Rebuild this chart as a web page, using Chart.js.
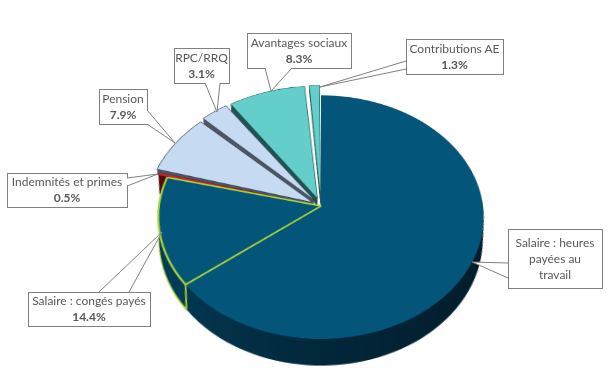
<!DOCTYPE html>
<html lang="fr">
<head>
<meta charset="utf-8">
<title>Rémunération</title>
<script src="https://cdn.jsdelivr.net/npm/chart.js@4"></script>
<style>
  html, body { margin: 0; background: #fff; }
  #stage { position: relative; width: 609px; height: 368px; overflow: hidden; }
  /* la tarte est inclinée en vraie perspective, les étiquettes restent à plat */
  #pieWrap {
    position: absolute; left: 91px; top: -24px; width: 460px; height: 460px;
    transform: perspective(1181px) rotateX(41.8deg);
  }
  #leaders { position: absolute; left: 0; top: 0; }
  .label {
    position: absolute; display: flex; flex-direction: column; justify-content: center;
    text-align: center; font: 12px/16px Lato, sans-serif; color: #595959;
  }
  .label b { font-weight: 700; }
</style>
</head>
<body>
<div id="stage">
  <div id="pieWrap"><canvas id="pie" width="460" height="460"></canvas></div>
  <svg id="leaders" width="609" height="368"></svg>
</div>
<script>
const categories = ["Salaire : heures payées au travail", "Salaire : congés payés", "Indemnités et primes",
  "Pension", "RPC/RRQ", "Avantages sociaux", "Contributions AE"];
const values = [64.4, 14.4, 0.5, 7.9, 3.1, 8.3, 1.3];
const shownPct = ["", "14.4%", "0.5%", "7.9%", "3.1%", "8.3%", "1.3%"];

const topColors = ["#03557a", "#03557a", "#c2282b", "#c6dbf1", "#c6dbf1", "#64cfca", "#64cfca"];
const wallColors = ["#02293d", "#033c58", "#560b0c", "#4d5666", "#4d5666", "#1d5553", "#1d5553"];
const edgeColors = ["#03557a", "#a9d534", "#7a1416", "#33414f", "#33414f", "#1d5553", "#1d5553"];
const edgeWidths = [0, 2, 0.6, 0.7, 0.7, 0.7, 0.7];
const explode = [0, 0, 20, 38, 36, 42, 34];
const wallDepths = [29, 29, 26, 8, 8, 10, 10];
const wallShrink = 0.0008;

// rectangle [x, y, w, h] puis pointe de la bulle : deux points de base et le bout
const callouts = [
  { box: [508, 229, 94, 59], base: [[508, 263], [508, 278]], tip: [472, 262] },
  { box: [28, 292, 122, 34], base: [[99, 292], [129, 292]], tip: [162, 232] },
  { box: [7, 173, 120, 34], base: [[127, 178], [127, 186]], tip: [158, 174] },
  { box: [99, 89, 48, 35], base: [[147, 110], [147, 124]], tip: [175, 143] },
  { box: [174, 48, 55, 35], base: [[205, 83], [220, 83]], tip: [217, 112] },
  { box: [247, 33, 104, 35], base: [[265, 68], [292, 68]], tip: [271, 91] },
  { box: [406, 39, 97, 35], base: [[406, 61], [406, 69]], tip: [320, 87] }
];

const drawWith = (arc, ctx, over, dy) => {
  const saved = arc.options;
  arc.options = Object.assign(Object.create(saved), over);
  ctx.save();
  // les couches basses se resserrent vers l'axe, sinon la paroi déborde à droite
  ctx.translate(arc.x, arc.y + dy);
  ctx.scale(1 - dy * wallShrink, 1);
  ctx.translate(-arc.x, -arc.y);
  arc.draw(ctx);
  ctx.restore();
  arc.options = saved;
};

// dessine les parois puis le dessus de chaque part, de l'arrière vers l'avant
const extrude = {
  id: "extrude",
  beforeDatasetsDraw(chart) {
    const { ctx } = chart;
    const arcs = chart.getDatasetMeta(0).data;
    const first = arcs[0];
    const grad = ctx.createLinearGradient(first.x - first.outerRadius, 0, first.x + first.outerRadius, 0);
    grad.addColorStop(0, "#033a55");
    grad.addColorStop(0.45, "#02293d");
    grad.addColorStop(1, "#021c2a");

    [6, 5, 4, 3, 2, 1, 0].forEach(i => {
      const wall = i === 0 ? grad : wallColors[i];
      // le bas de la paroi garde le liseré de la part (vert pour les congés payés)
      drawWith(arcs[i], ctx, { backgroundColor: wall, borderColor: i === 1 ? edgeColors[1] : wall,
        borderWidth: i === 1 ? 2 : 0 }, wallDepths[i]);
      for (let k = wallDepths[i] - 1; k > 0; k--) {
        drawWith(arcs[i], ctx, { backgroundColor: wall, borderWidth: 0 }, k);
      }
      arcs[i].draw(ctx);
    });
    arcs[1].draw(ctx);

    // arête verticale à la jonction des deux parts de salaire
    const a = arcs[1].startAngle;
    const r = arcs[1].outerRadius;
    const px = arcs[1].x + r * Math.cos(a);
    const py = arcs[1].y + r * Math.sin(a);
    ctx.strokeStyle = edgeColors[1];
    ctx.lineWidth = 1.6;
    ctx.beginPath();
    ctx.moveTo(px, py);
    ctx.lineTo(arcs[1].x + r * Math.cos(a) * (1 - wallDepths[1] * wallShrink), py + wallDepths[1]);
    ctx.stroke();
    return false;
  }
};

new Chart(document.getElementById("pie"), {
  type: "pie",
  data: {
    labels: categories,
    datasets: [{
      data: values,
      backgroundColor: topColors,
      borderColor: edgeColors,
      borderWidth: edgeWidths,
      offset: explode
    }]
  },
  options: {
    responsive: false,
    animation: false,
    devicePixelRatio: 2,
    radius: 162,
    plugins: { legend: { display: false }, tooltip: { enabled: false } }
  },
  plugins: [extrude]
});

const svg = document.getElementById("leaders");
const stage = document.getElementById("stage");
categories.forEach((name, i) => {
  const { box: [x, y, w, h], base, tip } = callouts[i];
  const pts = [base[0], tip, base[1]].map(p => p.join(",")).join(" ");
  const rect = document.createElementNS("http://www.w3.org/2000/svg", "rect");
  rect.setAttribute("x", x + 0.5);
  rect.setAttribute("y", y + 0.5);
  rect.setAttribute("width", w);
  rect.setAttribute("height", h);
  rect.setAttribute("fill", "#fff");
  rect.setAttribute("stroke", "#808080");
  svg.appendChild(rect);
  const cover = document.createElementNS("http://www.w3.org/2000/svg", "polygon");
  cover.setAttribute("points", pts);
  cover.setAttribute("fill", "#fff");
  svg.appendChild(cover);
  const wedge = document.createElementNS("http://www.w3.org/2000/svg", "polyline");
  wedge.setAttribute("points", pts);
  wedge.setAttribute("fill", "none");
  wedge.setAttribute("stroke", "#808080");
  svg.appendChild(wedge);

  const div = document.createElement("div");
  div.className = "label";
  div.style.cssText = `left:${x}px;top:${y}px;width:${w}px;height:${h}px;padding:0 ${i === 0 ? 6 : 0}px;box-sizing:border-box`;
  div.innerHTML = name + (shownPct[i] ? `<b>${shownPct[i]}</b>` : "");
  stage.appendChild(div);
});
</script>
</body>
</html>
